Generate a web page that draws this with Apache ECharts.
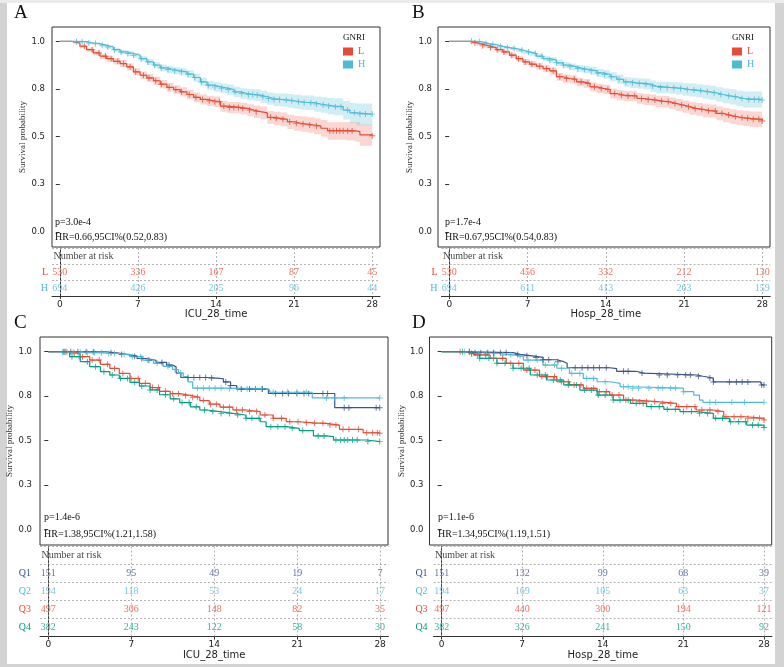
<!DOCTYPE html>
<html><head><meta charset="utf-8">
<script src="https://cdn.jsdelivr.net/npm/echarts@6/dist/echarts.min.js"></script>
<style>html,body{margin:0;padding:0;background:#fff}#c{width:784px;height:667px}</style>
</head><body><div id="c"></div>
<script>
// ---------- DATA ----------
const riskTimes = [0, 7, 14, 21, 28];
const yTickVals = [0, 0.25, 0.5, 0.75, 1];
const yTickLabels = ['0.0', '0.3', '0.5', '0.8', '1.0'];

// Panel A (ICU, GNRI L/H): [time, survival, lower CI, upper CI]
const A_L = [[0,1,1,1],[1.05,1,1,1],[1.2,.991,.984,.997],[1.8,.974,.964,.983],[2.4,.956,.944,.967],[3.0,.939,.925,.952],[3.6,.922,.907,.936],[4.2,.909,.893,.924],[4.8,.895,.878,.911],[5.4,.883,.865,.900],[6.0,.866,.847,.884],[6.6,.840,.820,.859],[7.2,.822,.802,.842],[7.8,.808,.787,.828],[8.4,.793,.771,.814],[9.0,.775,.752,.797],[9.6,.758,.735,.781],[10.2,.747,.723,.770],[10.8,.735,.710,.759],[11.4,.721,.696,.746],[12.0,.706,.680,.732],[12.6,.695,.668,.721],[13.2,.688,.661,.715],[13.8,.683,.655,.710],[14.4,.660,.631,.688],[15.0,.653,.623,.682],[16.2,.648,.617,.678],[16.8,.639,.607,.670],[17.4,.631,.598,.663],[18.0,.625,.591,.658],[18.6,.601,.566,.635],[19.2,.596,.560,.631],[19.8,.591,.554,.627],[20.4,.578,.540,.615],[21.0,.570,.531,.608],[21.6,.566,.526,.605],[22.2,.561,.520,.601],[22.8,.556,.513,.597],[23.4,.544,.499,.587],[24.0,.531,.484,.576],[25.7,.530,.480,.577],[26.5,.526,.473,.576],[26.9,.509,.452,.564],[28,.505,.440,.566]];
const A_H = [[0,1,1,1],[1.3,1,1,1],[1.5,.998,.995,1],[2.4,.991,.985,.996],[3.0,.988,.981,.994],[3.6,.979,.971,.987],[4.2,.970,.960,.979],[4.8,.956,.945,.966],[5.4,.944,.932,.955],[6.0,.936,.923,.948],[6.6,.927,.913,.940],[7.2,.909,.894,.923],[7.8,.892,.876,.907],[8.4,.875,.858,.891],[9.0,.861,.843,.878],[9.6,.852,.833,.870],[10.2,.845,.826,.864],[10.8,.840,.820,.859],[11.4,.828,.807,.848],[12.0,.810,.788,.831],[12.6,.787,.764,.809],[13.2,.770,.746,.793],[13.8,.761,.736,.785],[14.4,.754,.728,.779],[15.0,.747,.720,.773],[15.6,.735,.707,.762],[16.2,.726,.697,.754],[16.8,.721,.691,.750],[17.4,.718,.687,.748],[18.0,.709,.677,.740],[18.6,.700,.667,.732],[19.2,.695,.661,.728],[19.8,.692,.657,.726],[20.4,.688,.652,.723],[21.0,.683,.646,.719],[21.6,.679,.641,.716],[22.2,.678,.639,.716],[22.8,.671,.631,.710],[23.4,.666,.625,.706],[24.0,.660,.617,.702],[24.6,.657,.612,.701],[25.4,.639,.590,.687],[26.0,.625,.573,.676],[26.6,.618,.560,.674],[28,.618,.555,.680]];
const A_L_cens = [2.2,2.9,3.5,4.1,4.6,5.2,5.7,6.3,6.8,7.5,8.0,8.6,9.1,9.8,10.4,10.9,11.6,12.2,12.8,13.4,13.9,14.3,14.7,15.2,15.6,16.0,16.4,17.0,17.6,18.9,19.4,20.0,20.6,21.2,21.8,22.4,23.0,24.2,24.5,24.8,25.1,25.4,25.8,26.2,28];
const A_H_cens = [1.5,2.0,2.6,3.2,3.8,4.3,4.9,5.5,6.1,6.6,7.3,7.9,8.5,9.1,9.7,10.3,10.9,11.5,12.1,12.7,13.3,13.9,14.5,15.1,15.7,16.3,16.9,17.3,17.7,18.2,18.7,19.2,19.7,20.3,20.8,21.4,21.9,22.5,23.0,23.6,24.1,24.7,25.2,25.8,26.4,26.9,27.4,28];
const A_L_risk = [530, 336, 167, 87, 45];
const A_H_risk = [694, 426, 205, 96, 44];

// Panel B (Hospital, GNRI L/H)
const B_L = [[0,1,1,1],[1.1,1,1,1],[1.85,.993,.987,.998],[2.4,.984,.976,.991],[3.0,.976,.966,.984],[3.6,.967,.956,.977],[4.2,.956,.944,.967],[4.8,.944,.931,.956],[5.4,.927,.913,.940],[6.0,.909,.894,.923],[6.6,.892,.876,.907],[7.2,.880,.863,.896],[7.8,.869,.851,.886],[8.4,.857,.838,.875],[9.0,.845,.825,.864],[9.6,.814,.793,.834],[10.2,.805,.783,.826],[10.8,.801,.779,.822],[11.4,.787,.764,.809],[12.0,.779,.756,.802],[12.6,.761,.737,.785],[13.2,.753,.728,.777],[13.8,.747,.722,.772],[14.4,.726,.700,.752],[15.0,.718,.691,.744],[15.6,.713,.686,.740],[16.8,.700,.672,.728],[17.4,.695,.666,.723],[18.0,.692,.663,.721],[18.5,.686,.656,.715],[19.1,.683,.653,.713],[19.7,.674,.643,.705],[20.3,.666,.634,.697],[20.9,.657,.625,.689],[21.5,.648,.615,.681],[22.1,.643,.609,.676],[22.7,.636,.601,.670],[23.3,.634,.599,.669],[23.9,.622,.586,.658],[24.5,.613,.576,.650],[25.1,.605,.567,.643],[25.7,.599,.560,.638],[26.3,.596,.556,.636],[26.9,.591,.550,.632],[28,.582,.538,.626]];
const B_H = [[0,1,1,1],[1.3,1,1,1],[2.4,.997,.994,1],[3.0,.988,.983,.993],[3.6,.983,.977,.989],[4.2,.974,.967,.981],[4.8,.967,.959,.975],[5.4,.962,.953,.971],[6.0,.953,.943,.963],[6.6,.944,.933,.955],[7.2,.936,.924,.948],[7.8,.922,.909,.935],[8.4,.909,.895,.923],[9.0,.901,.886,.916],[9.6,.887,.871,.903],[10.2,.875,.858,.892],[10.8,.866,.848,.884],[11.4,.857,.838,.876],[12.0,.852,.832,.872],[12.6,.845,.824,.866],[13.2,.834,.812,.856],[13.8,.826,.803,.849],[14.4,.814,.790,.838],[15.0,.801,.776,.826],[15.6,.787,.761,.813],[16.2,.782,.755,.809],[16.8,.779,.752,.806],[17.4,.775,.747,.803],[18.0,.765,.736,.794],[18.5,.758,.728,.788],[19.7,.756,.725,.787],[20.3,.753,.721,.785],[20.9,.747,.714,.780],[21.5,.744,.710,.778],[22.1,.740,.705,.775],[22.7,.735,.699,.771],[23.3,.730,.693,.767],[23.9,.721,.683,.759],[24.5,.714,.675,.753],[25.1,.709,.669,.749],[25.7,.700,.659,.741],[26.3,.695,.653,.737],[28,.692,.648,.736]];
const B_L_cens = [2.3,3.0,3.7,4.3,4.9,5.6,6.2,6.8,7.4,8.1,8.7,9.3,9.9,10.5,11.2,11.8,12.4,13.0,13.6,14.2,14.8,15.4,16.0,16.6,17.2,17.8,18.4,19.0,19.6,20.2,20.8,21.4,22.0,22.6,23.2,23.8,24.4,25.0,25.6,26.2,26.7,27.2,27.7,28];
const B_H_cens = [2.0,2.7,3.3,3.9,4.6,5.2,5.8,6.5,7.1,7.7,8.3,9.0,9.6,10.2,10.8,11.5,12.1,12.7,13.3,13.9,14.5,15.2,15.8,16.4,17.0,17.6,18.2,18.9,19.5,20.1,20.7,21.3,21.9,22.5,23.1,23.7,24.3,25.0,25.6,26.2,26.8,27.3,27.7,28];
const B_L_risk = [530, 456, 332, 212, 130];
const B_H_risk = [694, 611, 413, 263, 159];

// Panel C (ICU, quartiles): [time, survival]
const C_Q1 = [[0,1],[4.4,1],[4.9,.994],[5.8,.985],[6.6,.975],[7.5,.962],[8.3,.952],[9.1,.94],[10.0,.925],[10.5,.915],[10.8,.88],[11.2,.855],[13.4,.852],[14.2,.848],[14.8,.83],[15.4,.81],[15.9,.79],[18.6,.765],[24.2,.685],[28,.685]];
const C_Q2 = [[0,1],[1.0,1],[1.2,.997],[3.0,.994],[5.0,.99],[6.0,.985],[6.9,.972],[8.0,.953],[8.9,.935],[9.7,.918],[10.5,.9],[11.0,.88],[11.4,.86],[11.8,.83],[12.2,.795],[15.0,.792],[18.4,.785],[18.7,.772],[22.3,.74],[28,.74]];
const C_Q3 = [[0,1],[1.0,1],[1.8,.991],[2.7,.972],[3.5,.953],[4.4,.929],[5.2,.906],[6.0,.878],[6.9,.85],[7.7,.822],[8.6,.798],[9.4,.777],[10.3,.764],[11.1,.754],[12.0,.744],[12.8,.725],[13.6,.705],[14.5,.688],[15.6,.672],[16.7,.663],[17.9,.644],[19.0,.625],[20.1,.606],[21.2,.600],[22.4,.597],[23.5,.587],[24.6,.563],[26.6,.544],[28,.541]];
const C_Q4 = [[0,1],[1.0,1],[1.8,.972],[2.7,.944],[3.5,.916],[4.4,.888],[5.2,.869],[6.0,.85],[6.9,.828],[7.7,.807],[8.6,.785],[9.4,.758],[10.3,.735],[11.1,.714],[12.0,.69],[12.8,.672],[13.4,.663],[14.5,.653],[15.6,.644],[16.7,.625],[17.9,.606],[18.4,.578],[20.1,.569],[21.2,.556],[22.4,.526],[23.5,.522],[24.1,.503],[26.9,.494],[28,.494]];
const C_Q1_cens = [1.4,1.9,2.5,3.2,3.8,5.3,6.2,7.3,7.9,8.5,9.6,10.2,11.8,12.3,12.8,13.3,13.8,15.0,15.4,16.3,17.0,17.5,18.1,19.2,19.8,20.3,21.0,21.6,22.0,23.2,23.6,25.0,25.4,27.7,28];
const C_Q2_cens = [1.2,1.6,2.1,2.7,3.3,3.9,4.5,5.1,5.6,6.4,7.1,7.8,8.4,9.2,10.1,10.7,11.2,12.6,13.1,13.6,14.1,14.6,15.3,16.0,16.8,17.5,18.0,19.0,20.2,21.0,21.8,23.5,24.2,25.0,28];
const C_Q3_cens = [1.5,2.2,2.9,3.7,4.3,5.0,5.6,6.3,7.0,7.6,8.2,8.8,9.3,9.9,10.5,11.0,11.6,12.2,12.6,13.1,13.7,14.2,14.8,15.3,15.9,16.4,17.0,17.6,18.3,19.0,19.7,20.4,21.1,21.8,22.5,23.2,23.8,24.3,24.9,25.4,26.2,26.9,27.4,27.8,28];
const C_Q4_cens = [1.3,2.0,2.6,3.3,4.0,4.7,5.4,6.1,6.7,7.3,7.9,8.6,9.2,9.9,10.6,11.3,11.9,12.5,13.2,13.9,14.6,15.3,16.0,16.7,17.2,17.8,18.8,19.4,20.0,20.6,21.5,22.8,23.3,24.3,24.7,25.0,25.3,25.7,26.1,27.0,28];
const C_Q1_risk = [151, 95, 49, 19, 7];
const C_Q2_risk = [194, 118, 53, 24, 17];
const C_Q3_risk = [497, 306, 148, 82, 35];
const C_Q4_risk = [382, 243, 122, 58, 30];

// Panel D (Hospital, quartiles)
const D_Q1 = [[0,1],[1.9,1],[2.5,.995],[6.2,.985],[6.8,.978],[7.7,.968],[8.8,.955],[10.0,.944],[10.6,.935],[10.9,.91],[14.6,.905],[15.2,.89],[16.9,.88],[17.5,.869],[22.2,.862],[22.7,.852],[23.6,.83],[27.7,.826],[27.8,.813],[28,.813]];
const D_Q2 = [[0,1],[1.9,1],[2.5,.99],[5.0,.982],[6.2,.975],[7.1,.953],[8.8,.925],[10.0,.907],[11.1,.878],[12.3,.85],[13.5,.831],[14.6,.822],[15.5,.803],[16.5,.795],[21.0,.775],[21.9,.756],[22.4,.728],[22.7,.715],[28,.715]];
const D_Q3 = [[0,1],[1.9,1],[2.75,.982],[4.2,.963],[5.6,.935],[7.1,.897],[8.5,.86],[10.0,.831],[11.1,.813],[12.3,.794],[13.5,.775],[14.6,.756],[15.8,.728],[16.9,.719],[18.7,.709],[20.4,.691],[22.1,.672],[23.6,.663],[24.5,.634],[26.5,.625],[28,.616]];
const D_Q4 = [[0,1],[1.6,1],[1.9,.99],[3.3,.963],[4.8,.935],[6.2,.907],[7.7,.869],[9.1,.841],[10.6,.813],[12.0,.784],[13.5,.756],[14.9,.728],[16.4,.709],[17.8,.691],[19.3,.676],[20.7,.663],[22.1,.653],[23.6,.625],[25.0,.606],[26.5,.587],[28,.574]];
const D_Q1_cens = [2.4,2.9,3.4,4.0,4.5,5.1,5.6,6.6,7.4,8.2,8.8,9.3,10.1,11.6,12.2,12.7,13.2,13.7,14.3,15.8,16.2,17.4,18.9,19.6,20.5,21.2,21.6,22.3,23.3,23.6,25.0,25.6,26.1,26.6,27.8,28];
const D_Q2_cens = [2.0,2.6,3.2,3.9,4.6,5.3,6.0,6.8,7.5,8.3,9.0,9.8,10.4,11.3,12.0,12.6,13.2,14.2,15.8,16.2,16.6,17.1,18.0,18.8,19.2,19.9,20.3,21.0,23.3,23.8,25.2,26.3,28];
const D_Q3_cens = [1.6,2.4,3.1,3.8,4.5,5.3,6.0,6.7,7.4,8.1,8.7,9.2,9.8,10.4,11.0,11.5,12.1,12.6,13.2,13.7,14.3,14.8,15.4,16.0,16.6,17.2,17.8,18.5,19.2,19.9,20.6,21.3,22.0,22.6,23.3,24.0,24.7,25.4,26.0,26.6,27.1,27.6,28];
const D_Q4_cens = [1.8,2.6,3.3,4.1,4.8,5.5,6.2,6.9,7.6,8.3,9.0,9.7,10.3,11.0,11.7,12.4,13.0,13.6,14.2,14.9,15.5,16.2,16.9,17.5,18.2,18.9,19.6,20.3,21.0,21.7,22.4,23.1,23.8,24.4,25.1,25.8,26.4,27.0,27.5,28];
const D_Q1_risk = [151, 132, 99, 68, 39];
const D_Q2_risk = [194, 169, 105, 63, 37];
const D_Q3_risk = [497, 440, 300, 194, 121];
const D_Q4_risk = [382, 326, 241, 150, 92];

// ---------- STYLE / LAYOUT ----------
const RED = '#E64B35', CYAN = '#4DBBD5', NAVY = '#3C5488', GREEN = '#00A087';
const RED_BAND = 'rgba(230,75,53,0.22)', CYAN_BAND = 'rgba(77,187,213,0.25)';
const SERIF = '"Liberation Serif","Times New Roman",serif';
const SANS = '"DejaVu Sans",sans-serif';
const PLUS = 'path://M0,4.2L10,4.2L10,5.8L0,5.8Z M4.2,0L5.8,0L5.8,10L4.2,10Z';

const panels = [
  { main:{left:52,top:27,width:328,height:220}, mx:[-0.7,28.7],
    risk:{left:52,top:248,width:328,height:48}, rx:[-0.7,28.7],
    y:[-0.079,1.075], yNameGap:20, yLabelMargin:7, rowMargin:4, xName:'ICU_28_time', xNameGap:12,
    groups:[{name:'L',color:RED,band:RED_BAND,curve:A_L,cens:A_L_cens,risk:A_L_risk},
            {name:'H',color:CYAN,band:CYAN_BAND,curve:A_H,cens:A_H_cens,risk:A_H_risk}],
    legend:{left:343,top:46.5} },
  { main:{left:438,top:27,width:332,height:220}, mx:[-1.0,28.7],
    risk:{left:441.5,top:248,width:328.7,height:48}, rx:[-0.7,28.7],
    y:[-0.079,1.075], yNameGap:16, yLabelMargin:6, rowMargin:4, xName:'Hosp_28_time', xNameGap:12,
    groups:[{name:'L',color:RED,band:RED_BAND,curve:B_L,cens:B_L_cens,risk:B_L_risk},
            {name:'H',color:CYAN,band:CYAN_BAND,curve:B_H,cens:B_H_cens,risk:B_H_risk}],
    legend:{left:732,top:46.5} },
  { main:{left:40,top:337,width:348,height:208}, mx:[-0.7,28.7],
    risk:{left:40,top:546.5,width:348.4,height:90}, rx:[-0.7,28.7],
    y:[-0.088,1.083], yNameGap:23, yLabelMargin:8, rowMargin:9, xName:'ICU_28_time', xNameGap:13,
    groups:[{name:'Q1',color:NAVY,curve:C_Q1,cens:C_Q1_cens,risk:C_Q1_risk},
            {name:'Q2',color:CYAN,curve:C_Q2,cens:C_Q2_cens,risk:C_Q2_risk},
            {name:'Q3',color:RED,curve:C_Q3,cens:C_Q3_cens,risk:C_Q3_risk},
            {name:'Q4',color:GREEN,curve:C_Q4,cens:C_Q4_cens,risk:C_Q4_risk}] },
  { main:{left:429.5,top:337,width:342.2,height:208}, mx:[-1.06,28.67],
    risk:{left:433.6,top:546.5,width:338.4,height:90}, rx:[-0.7,28.7],
    y:[-0.088,1.083], yNameGap:19, yLabelMargin:6, rowMargin:6, xName:'Hosp_28_time', xNameGap:13,
    groups:[{name:'Q1',color:NAVY,curve:D_Q1,cens:D_Q1_cens,risk:D_Q1_risk},
            {name:'Q2',color:CYAN,curve:D_Q2,cens:D_Q2_cens,risk:D_Q2_risk},
            {name:'Q3',color:RED,curve:D_Q3,cens:D_Q3_cens,risk:D_Q3_risk},
            {name:'Q4',color:GREEN,curve:D_Q4,cens:D_Q4_cens,risk:D_Q4_risk}] }
];

const annotations = [
  {text:'A', x:14, y:13, font:'19px '+SERIF},
  {text:'B', x:412, y:13, font:'19px '+SERIF},
  {text:'C', x:14, y:323.5, font:'19px '+SERIF},
  {text:'D', x:412, y:323.5, font:'19px '+SERIF},
  {text:'p=3.0e-4', x:55, y:222, font:'10px '+SERIF},
  {text:'HR=0.66,95CI%(0.52,0.83)', x:55, y:237, font:'10px '+SERIF},
  {text:'p=1.7e-4', x:445, y:222, font:'10px '+SERIF},
  {text:'HR=0.67,95CI%(0.54,0.83)', x:445, y:237, font:'10px '+SERIF},
  {text:'p=1.4e-6', x:44, y:517, font:'10px '+SERIF},
  {text:'HR=1.38,95CI%(1.21,1.58)', x:44, y:534.5, font:'10px '+SERIF},
  {text:'p=1.1e-6', x:438, y:517, font:'10px '+SERIF},
  {text:'HR=1.34,95CI%(1.19,1.51)', x:438, y:534.5, font:'10px '+SERIF},
  {text:'GNRI', x:343, y:38, font:'9px '+SERIF},
  {text:'GNRI', x:732, y:38, font:'9px '+SERIF}
];

// ---------- BUILD ----------
function stepAt(curve, t) {
  let s = curve[0][1];
  for (const p of curve) { if (p[0] <= t) s = p[1]; else break; }
  return s;
}

const option = {
  animation: false,
  backgroundColor: '#d3d3d3',
  grid: [], xAxis: [], yAxis: [], series: [], legend: [],
  graphic: { elements: [] }
};

option.graphic.elements.push(
  { type:'rect', z:-100, shape:{x:0,y:0,width:784,height:3}, style:{fill:'#ececec'} },
  { type:'rect', z:-100, shape:{x:7,y:3,width:768,height:661}, style:{fill:'#ffffff'} }
);
annotations.forEach(a => option.graphic.elements.push({
  type:'text', z:10, style:{ text:a.text, x:a.x, y:a.y, font:a.font, fill:'#111',
    textAlign:'left', textVerticalAlign:'middle', verticalAlign:'middle' }
}));

panels.forEach((P, pi) => {
  const gi = option.grid.length;
  option.grid.push(Object.assign({ show:true, borderColor:'#333', borderWidth:1,
    backgroundColor:'rgba(0,0,0,0)', containLabel:false, outerBoundsMode:'none' }, P.main));
  option.grid.push(Object.assign({ show:false, containLabel:false, outerBoundsMode:'none' }, P.risk));

  option.xAxis.push({ gridIndex:gi, type:'value', min:P.mx[0], max:P.mx[1], show:false });
  option.yAxis.push({ gridIndex:gi, type:'value', min:P.y[0], max:P.y[1],
    axisLine:{show:false}, splitLine:{show:false},
    axisTick:{show:true, customValues:yTickVals, length:4, lineStyle:{color:'#333'}},
    axisLabel:{show:true, customValues:yTickVals, margin:P.yLabelMargin, fontFamily:SANS, fontSize:8.5, color:'#222',
      formatter: v => { const i = yTickVals.indexOf(v); return i >= 0 ? yTickLabels[i] : v.toFixed(1); }},
    name:'Survival probability', nameLocation:'middle', nameGap:P.yNameGap,
    nameTextStyle:{fontFamily:SERIF, fontSize:9, color:'#333'} });

  const cats = ['Number at risk'].concat(P.groups.map(g => g.name));
  const colorOf = {}; P.groups.forEach(g => colorOf[g.name] = g.color);
  option.xAxis.push({ gridIndex:gi+1, type:'value', min:P.rx[0], max:P.rx[1],
    axisLine:{show:true, onZero:false, lineStyle:{color:'#333'}},
    axisTick:{show:true, customValues:riskTimes, length:3, lineStyle:{color:'#333'}},
    axisLabel:{show:true, customValues:riskTimes, margin:4, fontFamily:SANS, fontSize:9, color:'#222'},
    splitLine:{show:false},
    name:P.xName, nameLocation:'middle', nameGap:P.xNameGap,
    nameTextStyle:{fontFamily:SANS, fontSize:10, color:'#222'} });
  option.yAxis.push({ gridIndex:gi+1, type:'category', data:cats, inverse:true,
    axisLine:{show:true, lineStyle:{color:'#333'}}, axisTick:{show:false},
    splitLine:{show:true, interval:0, lineStyle:{type:[2,2], color:'#a0a0a0', width:0.8}},
    axisLabel:{interval:0, margin:P.rowMargin, fontFamily:SERIF, fontSize:10,
      formatter: v => v === 'Number at risk' ? '' : v,
      color: v => colorOf[v] || '#000' } });

  // confidence bands (stepped polygons from the lower/upper CI columns)
  P.groups.forEach(g => {
    if (!g.band) return;
    const c = g.curve;
    option.series.push({ type:'custom', name:'band'+pi+g.name, xAxisIndex:gi, yAxisIndex:gi,
      silent:true, z:1, clip:true, data:[[c[0][0], c[0][2]]],
      renderItem: (params, api) => {
        const pts = [];
        for (let i = 0; i < c.length; i++) {
          const x2 = i < c.length - 1 ? c[i+1][0] : c[i][0];
          pts.push(api.coord([c[i][0], c[i][3]]));
          pts.push(api.coord([x2, c[i][3]]));
        }
        for (let i = c.length - 1; i >= 0; i--) {
          const x2 = i < c.length - 1 ? c[i+1][0] : c[i][0];
          pts.push(api.coord([x2, c[i][2]]));
          pts.push(api.coord([c[i][0], c[i][2]]));
        }
        return { type:'polygon', shape:{points:pts}, style:{fill:g.band, stroke:null} };
      } });
  });
  // survival curves and censor marks
  P.groups.forEach(g => {
    option.series.push({ type:'line', name:g.name, xAxisIndex:gi, yAxisIndex:gi, step:'end',
      color:g.color, symbol:'none', showSymbol:false, z:2,
      lineStyle:{color:g.color, width:1.2}, itemStyle:{color:g.color},
      data: g.curve.map(p => [p[0], p[1]]) });
    option.series.push({ type:'scatter', name:'cens'+pi+g.name, xAxisIndex:gi, yAxisIndex:gi,
      symbol:PLUS, symbolSize:6, silent:true, z:3, itemStyle:{color:g.color},
      data: g.cens.map(t => [t, stepAt(g.curve, t)]) });
  });
  // risk table
  option.series.push({ type:'scatter', name:'nar'+pi, xAxisIndex:gi+1, yAxisIndex:gi+1,
    symbolSize:1, silent:true, itemStyle:{color:'rgba(0,0,0,0)'},
    data:[[P.rx[0], 0]],
    label:{show:true, position:'right', distance:1, formatter:'Number at risk',
      fontFamily:SERIF, fontSize:10, color:'#111'},
    markLine:{silent:true, symbol:'none', label:{show:false},
      lineStyle:{type:[2,2], color:'#a0a0a0', width:0.8},
      data: riskTimes.map(t => ({xAxis:t})) } });
  P.groups.forEach((g, k) => {
    option.series.push({ type:'scatter', name:'risk'+pi+g.name, xAxisIndex:gi+1, yAxisIndex:gi+1,
      symbolSize:1, silent:true, itemStyle:{color:'rgba(0,0,0,0)'},
      data: riskTimes.map((t, i) => [t, k+1, g.risk[i]]),
      label:{show:true, position:'inside', formatter: p => String(p.value[2]),
        fontFamily:SERIF, fontSize:10, color:g.color} });
  });

  if (P.legend) {
    option.legend.push({ left:P.legend.left, top:P.legend.top, orient:'vertical', padding:0,
      itemWidth:10, itemHeight:8, itemGap:3, icon:'rect', selectedMode:false,
      textStyle:{fontFamily:SERIF, fontSize:10},
      data: P.groups.map(g => ({ name:g.name, itemStyle:{color:g.color}, textStyle:{color:g.color} })) });
  }
});

const chart = echarts.init(document.getElementById('c'));
chart.setOption(option);
</script></body></html>
